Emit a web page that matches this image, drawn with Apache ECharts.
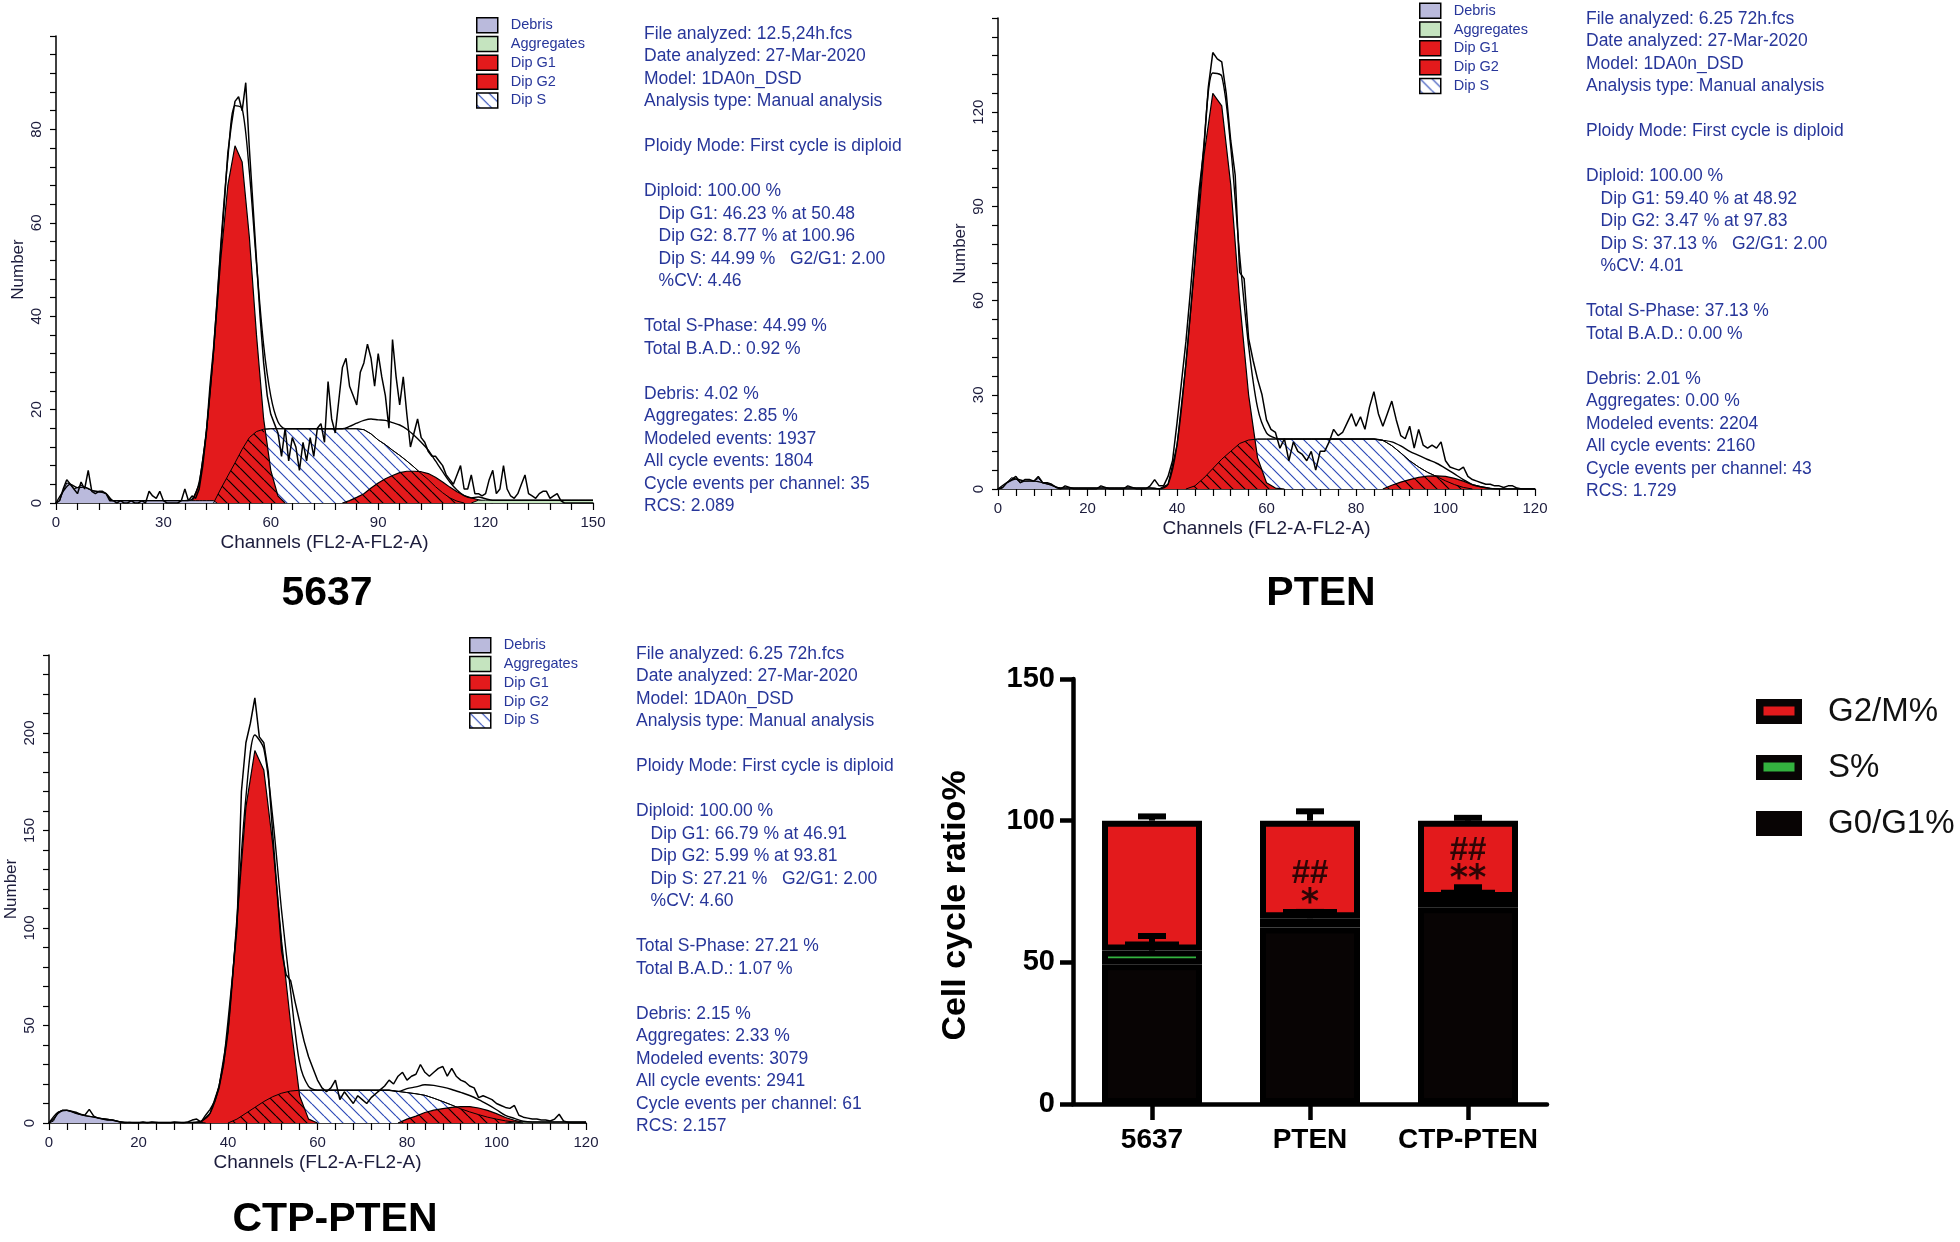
<!DOCTYPE html>
<html><head><meta charset="utf-8">
<script src="https://cdn.jsdelivr.net/npm/echarts@6/dist/echarts.min.js"></script>
<style>html,body{margin:0;padding:0;background:#fff}#c{width:1960px;height:1242px}</style>
</head><body><div id="c"></div>
<script>
// ---------------- DATA ----------------
// Panel 1 : 5637 (channels 0..150)
const raw5637 = [
0,0.5,3,5,4,3,2,4.5,3,7,
2.5,2,2.5,2.5,2,0.5,0.5,0,0.5,0,
0,0.5,0,0,0.5,0,2.5,1.5,1,2.5,
0.5,0,0,0,0,0.5,3,0.5,1.5,1,
3,8,15,25,33,43,54,64,75,81,
86,87,84,90,76,64,52,40,30,23,
19,17,15,10,16,9,14,12,7,13,
9,14,10,16,17,13,26,18,15,22,
29,31,25,23,21,28,30,34,31,25,
32,27,23,16,35,27,21,27,19,12,
15,18,14,13,11,10,10,9,8,6,
5,4,6,8,3,3,6,2,2,1.5,
2,5,7,2,3,8,3,1.5,1,2,
4,6,2,1.5,1,2,2.5,2.5,1,1.5,
2,0.5,0,0,0,0,0,0,0,0,0];
const debris5637 = [0,0.5,2.5,4.3,4,3,3.3,3.8,3.4,3,2.7,2.5,2.4,2.3,2,0.8,0.5,0.5,0.5,0.5,0.5,0.5,0.5,0.5,0.5,0.5,0.5,0.5,0.5,0.5,0.5,0.5,0.5,0.5,0.5,0.5,0.5,0.5,0.5,0.5,0.5,0.5,0.5,0.5,0.5,0];
const g1_5637 = [[36,0],[38,0.3],[40,4],[42,15],[44,32],[46,52],[48,68],[50,76.5],[52,73],[54,57],[56,36],[58,18],[60,7],[62,1.5],[64,0]];
const s_5637 = [[44,0],[46,3],[48,5.8],[50,8.6],[52,11.5],[54,14],[56,15.3],[58,15.8],[60,15.9],[62,15.9],[64,15.9],[66,15.9],[68,15.9],[70,15.9],[72,15.9],[74,15.9],[76,15.9],[78,15.9],[80,15.9],[82,15.9],[84,15.9],[86,15.7],[88,14.8],[90,13.5],[92,12.5],[94,11.3],[96,10.2],[98,9],[100,7.7],[102,6.3],[104,5],[106,3.5],[108,2.2],[110,1.1],[112,0.4],[114,0]];
const g2_5637 = [[80,0],[82,0.5],[84,1.2],[86,2],[88,3.2],[90,4.3],[92,5.2],[94,5.9],[96,6.5],[98,6.8],[100,6.8],[102,6.7],[104,6.3],[106,5.5],[108,4.5],[110,3.4],[112,2.4],[114,1.6],[116,1.1],[118,0.7],[120,0.3],[122,0]];
const aggr_5637 = [[116,0],[118,0.6],[120,0.6],[122,0.6],[124,0.6],[126,0.6],[128,0.6],[130,0.6],[132,0.6],[134,0.6],[136,0.6],[138,0.6],[140,0.6],[142,0.6],[144,0.6],[146,0.6],[148,0.6],[150,0.6]];

// Panel 2 : PTEN (channels 0..120)
const rawPTEN = [
0,0.5,2,3,4,2,3,3,2.5,4,
2,2,1.5,0.5,0,1,0.5,0,0,0,
0,0,0,1,0.5,0,0,0,0,1,
0.5,0,0,0,1,3,1,1,4,9,
21,34,47,63,80,96,108,128,139,137,
136,126,111,100,69,67,48,41,35,30,
22,19,18,13,16,9,15,12,11,9,
12,6,12,12,15,19,17,18,21,24,
20,23,19,26,31,24,20,24,28,22,
17,16,20,13,19,14,13,14,13,15,
9,7,6.5,6,7,4,3,2.5,2,1.5,
1.5,1,1,0.5,1,1,0.3,0,0,0,0];
const debrisPTEN = [0,0.3,2,3.6,3.2,2,2.5,2.6,2.5,3.4,2,1.6,1.2,0.5,0.3,0.3,0.3,0.3,0.3,0.3,0.3,0.3,0.3,0.3,0.3,0.3,0.3,0.3,0.3,0.3,0.3,0.3,0.3,0.3,0.3,0.3,0];
const g1_PTEN = [[36,0],[38,1.5],[40,14],[42,40],[44,72],[46,106],[48,126],[50,122],[52,97],[54,60],[56,30],[58,10],[60,2],[62,0.3],[64,0]];
const s_PTEN = [[42,0],[44,1],[46,3.5],[48,6.5],[50,9.5],[52,12],[54,14.5],[56,15.6],[58,15.9],[60,15.9],[62,15.9],[64,15.9],[66,15.9],[68,15.9],[70,15.9],[72,15.9],[74,15.9],[76,15.9],[78,15.9],[80,15.9],[82,15.9],[84,15.9],[86,15.5],[88,13.8],[90,11.5],[92,9],[94,7],[96,5.3],[98,4],[100,2.6],[102,1.4],[104,0.5],[106,0]];
const g2_PTEN = [[86,0],[88,1.2],[90,2.2],[92,3],[94,3.7],[96,4.1],[98,4.2],[100,4],[102,3.4],[104,2.5],[106,1.4],[108,0.7],[110,0.2],[112,0]];

// Panel 3 : CTP-PTEN (channels 0..120)
const rawCTP = [
0,2,5,6.5,6.5,6,5.5,4.5,4,7,
3.5,2.5,2,1.5,1.5,1,0.5,0,0.3,0,
0,0.5,0,0.5,0.3,0,0,0,0.5,0.3,
0,0.5,1.5,2,0.5,4,7,11,18,30,
52,75,100,170,195,205,218,198,195,180,
148,118,88,76,73,62,52,42,34,28,
22,18,16,18,22,12,16,13,10,14,
12,10,13,15,17,19,22,20,24,26,
22,24,25,30,26,24,26,28,29,24,
28,24,22,21,19,18,13,14,13,12,
10,9,8,7.5,9,4,3,2.5,2,2,
1.5,1.5,1,2,4.5,1,0.3,0,0,0,0];
const debrisCTP = [0,1,5.5,6.5,6.5,6,5,4.5,3.8,3.5,3,2.6,2.2,2,1.6,1.2,0.5,0.3,0.3,0.3,0.3,0.3,0.3,0.3,0.3,0.3,0.3,0.3,0.3,0.3,0.3,0.3,0.3,0.3,0.3,0];
const g1_CTP = [[32,0],[34,0.6],[36,5],[38,19],[40,47],[42,103],[44,162],[46,191],[48,181],[50,143],[52,93],[54,51],[56,14],[58,2],[60,0]];
const s_CTP = [[40,0],[42,2],[44,5],[46,8],[48,11],[50,13.5],[52,15.3],[54,16.4],[56,16.8],[58,16.8],[60,16.8],[62,16.8],[64,16.8],[66,16.8],[68,16.8],[70,16.8],[72,16.8],[74,16.8],[76,16.8],[78,16.2],[80,15.6],[82,15],[84,14.2],[86,12.7],[88,11],[90,9.2],[92,7.3],[94,5.7],[96,4.3],[98,3],[100,2],[102,1.1],[104,0.5],[106,0]];
const g2_CTP = [[78,0],[80,2],[82,3.5],[84,5.4],[86,6.6],[88,7.4],[90,8],[92,8.4],[94,8.4],[96,7.7],[98,6.5],[100,4.8],[102,2.8],[104,1.4],[106,0.4],[108,0]];
const aggr_CTP = [[102,0],[104,0.5],[106,0.5],[108,0.5],[110,0.5],[112,0.5],[114,0.5],[116,0.5],[118,0.5],[120,0.5]];

// Bar chart
const cats = ['5637', 'PTEN', 'CTP-PTEN'];
const g0g1 = [49.3, 62.3, 69.4];
const sPhase = [4.9, 3.3, 3.3];
const g2m = [45.8, 34.4, 27.3];
const errTop = [1.5, 3.3, 1.0];
const errSNarrow = [5.1, 2.2, 3.8];
const errSWide = [2.1, 2.2, 1.9];
const annotText = ['##', '*', '##', '**'];
const annotCat = [1, 1, 2, 2];
const annotY = [81.3, 73.4, 89.2, 81.9];

// Text blocks
const info5637 = ['File analyzed: 12.5,24h.fcs','Date analyzed: 27-Mar-2020','Model: 1DA0n_DSD','Analysis type: Manual analysis','','Ploidy Mode: First cycle is diploid','','Diploid: 100.00 %','   Dip G1: 46.23 % at 50.48','   Dip G2: 8.77 % at 100.96','   Dip S: 44.99 %   G2/G1: 2.00','   %CV: 4.46','','Total S-Phase: 44.99 %','Total B.A.D.: 0.92 %','','Debris: 4.02 %','Aggregates: 2.85 %','Modeled events: 1937','All cycle events: 1804','Cycle events per channel: 35','RCS: 2.089'];
const infoPTEN = ['File analyzed: 6.25 72h.fcs','Date analyzed: 27-Mar-2020','Model: 1DA0n_DSD','Analysis type: Manual analysis','','Ploidy Mode: First cycle is diploid','','Diploid: 100.00 %','   Dip G1: 59.40 % at 48.92','   Dip G2: 3.47 % at 97.83','   Dip S: 37.13 %   G2/G1: 2.00','   %CV: 4.01','','Total S-Phase: 37.13 %','Total B.A.D.: 0.00 %','','Debris: 2.01 %','Aggregates: 0.00 %','Modeled events: 2204','All cycle events: 2160','Cycle events per channel: 43','RCS: 1.729'];
const infoCTP = ['File analyzed: 6.25 72h.fcs','Date analyzed: 27-Mar-2020','Model: 1DA0n_DSD','Analysis type: Manual analysis','','Ploidy Mode: First cycle is diploid','','Diploid: 100.00 %','   Dip G1: 66.79 % at 46.91','   Dip G2: 5.99 % at 93.81','   Dip S: 27.21 %   G2/G1: 2.00','   %CV: 4.60','','Total S-Phase: 27.21 %','Total B.A.D.: 1.07 %','','Debris: 2.15 %','Aggregates: 2.33 %','Modeled events: 3079','All cycle events: 2941','Cycle events per channel: 61','RCS: 2.157'];
const histLegendNames = ['Debris', 'Aggregates', 'Dip G1', 'Dip G2', 'Dip S'];

// ---------------- STYLE ----------------
const FONT = '"Liberation Sans", Arial, Helvetica, sans-serif';
const MARKFONT = '"DejaVu Sans", "Liberation Sans", sans-serif';
const BLUE = '#27369a';
const AXC = '#1c1c3c';
const RED = '#e31a1c';
const LAV = '#babadc';
const AGG = '#c5e4bf';
const GREEN = '#33b23f';

function hatch(bg, fg, w) {
  const s = 12, c = document.createElement('canvas');
  c.width = s; c.height = s;
  const x = c.getContext('2d');
  if (bg) { x.fillStyle = bg; x.fillRect(0, 0, s, s); }
  x.strokeStyle = fg; x.lineWidth = w; x.beginPath();
  for (const o of [-s, 0, s]) { x.moveTo(o, 0); x.lineTo(o + s, s); }
  x.stroke();
  return { image: c, repeat: 'repeat' };
}
const hatchBlue = hatch('#ffffff', '#2d4ab8', 1.2);
const hatchBlack = hatch(null, '#000000', 1.2);

function boxIcon(fill, full) {
  const c = document.createElement('canvas');
  c.width = 46; c.height = 25;
  const x = c.getContext('2d');
  x.fillStyle = '#080404'; x.fillRect(0, 0, 46, 25);
  if (!full) { x.fillStyle = fill; x.fillRect(7.5, 7.5, 31, 9); }
  return 'image://' + c.toDataURL();
}

function panelSeries(gi, raw, debris, g1, s, g2, aggr, maxCh) {
  const m = a => new Map(a.map(p => [p[0], p[1]]));
  const G1 = m(g1), S = m(s), G2 = m(g2), AG = m(aggr || []);
  const ov = [], fit = [];
  for (let ch = 0; ch <= maxCh; ch += 2) {
    const sv = S.get(ch) || 0, r = (G1.get(ch) || 0) + (G2.get(ch) || 0);
    ov.push([ch, Math.min(sv, r)]);
    fit.push([ch, (debris[ch] || 0) + (G1.get(ch) || 0) + sv + (G2.get(ch) || 0) + (AG.get(ch) || 0)]);
  }
  const base = { type: 'line', xAxisIndex: gi, yAxisIndex: gi, symbol: 'none', silent: true, animation: false };
  const redS = { itemStyle: { color: RED }, lineStyle: { color: '#000', width: 1.2 }, areaStyle: { color: RED, opacity: 1 } };
  const out = [
    Object.assign({}, base, { name: 'Dip S', data: s, z: 2, itemStyle: { color: '#fff' }, lineStyle: { color: '#000', width: 1 }, areaStyle: { color: hatchBlue, opacity: 1 } }),
    Object.assign({}, base, { name: 'Dip G1', data: g1, z: 3 }, redS),
    Object.assign({}, base, { name: 'Dip G2', data: g2, z: 3 }, redS),
    Object.assign({}, base, { name: 'S overlap', data: ov, z: 4, lineStyle: { width: 0, opacity: 0 }, areaStyle: { color: hatchBlack, opacity: 1 } }),
    Object.assign({}, base, { name: 'S outline', data: s, z: 5, lineStyle: { color: '#000', width: 1 } }),
    Object.assign({}, base, { name: 'Debris', data: debris.map((v, i) => [i, v]), z: 5, itemStyle: { color: LAV }, lineStyle: { color: '#000', width: 1 }, areaStyle: { color: LAV, opacity: 1 } })
  ];
  if (aggr) out.push(Object.assign({}, base, { name: 'Aggregates', data: aggr, z: 5, itemStyle: { color: AGG }, lineStyle: { color: '#000', width: 1 }, areaStyle: { color: AGG, opacity: 1 } }));
  out.push(Object.assign({}, base, { name: 'Model fit', data: fit, z: 6, smooth: 0.3, lineStyle: { color: '#000', width: 1.4 } }));
  out.push(Object.assign({}, base, { name: 'Raw data', data: raw.map((v, i) => [i, v]), z: 7, lineStyle: { color: '#000', width: 1.5 } }));
  return out;
}

function hx(gi, max, step, labelStep) {
  return {
    type: 'value', gridIndex: gi, min: 0, max: max, interval: step,
    axisLine: { show: true, onZero: false, lineStyle: { color: '#000', width: 1.5 } },
    axisTick: { show: true, length: 7, lineStyle: { color: '#000', width: 1.2 } },
    splitLine: { show: false }, minorTick: { show: false },
    axisLabel: { formatter: v => (v % labelStep === 0 ? String(v) : ''), color: AXC, fontSize: 15, fontFamily: FONT, margin: 12 },
    name: 'Channels (FL2-A-FL2-A)', nameLocation: 'middle', nameGap: 30,
    nameTextStyle: { fontSize: 19, color: AXC, fontFamily: FONT }
  };
}
function hy(gi, max, step, labelStep) {
  return {
    type: 'value', gridIndex: gi, min: 0, max: max, interval: step,
    axisLine: { show: true, lineStyle: { color: '#000', width: 1.5 } },
    axisTick: { show: true, length: 6, lineStyle: { color: '#000', width: 1.2 } },
    splitLine: { show: false },
    axisLabel: { formatter: v => (v % labelStep === 0 && v < max ? String(v) : ''), rotate: 90, color: AXC, fontSize: 15, fontFamily: FONT, margin: 12 },
    name: 'Number', nameLocation: 'middle', nameGap: 29,
    nameTextStyle: { fontSize: 17, color: AXC, fontFamily: FONT }
  };
}
function histLegend(left, top) {
  const st = { borderColor: '#000', borderWidth: 1.5 };
  return {
    left: left, top: top, orient: 'vertical', padding: 0, icon: 'rect', selectedMode: false,
    itemWidth: 21, itemHeight: 15, itemGap: 2.3,
    textStyle: { color: BLUE, fontSize: 14.5, fontFamily: FONT, padding: [0, 0, 0, 8], lineHeight: 15 },
    data: histLegendNames.map(n => ({
      name: n,
      itemStyle: Object.assign({}, st, { color: n === 'Debris' ? LAV : n === 'Aggregates' ? AGG : n === 'Dip S' ? hatchBlue : RED })
    }))
  };
}
function infoText(lines, left, top) {
  return { type: 'text', left: left, top: top, silent: true,
    style: { text: lines.join('\n'), fill: BLUE, font: '17.5px ' + FONT, lineHeight: 22.5 } };
}
function errSeries(data, half) {
  return {
    type: 'custom', xAxisIndex: 3, yAxisIndex: 3, z: 6, silent: true, data: data,
    renderItem: (p, api) => {
      const a = api.coord([api.value(0), api.value(1)]);
      const b = api.coord([api.value(0), api.value(2)]);
      return { type: 'group', children: [
        { type: 'line', shape: { x1: a[0], y1: a[1], x2: b[0], y2: b[1] }, style: { stroke: '#000', lineWidth: 6 } },
        { type: 'line', shape: { x1: b[0] - half, y1: b[1], x2: b[0] + half, y2: b[1] }, style: { stroke: '#000', lineWidth: 6 } }
      ] };
    }
  };
}

const narrowCaps = [], wideCaps = [];
cats.forEach((c, i) => {
  const sTop = g0g1[i] + sPhase[i], tot = g0g1[i] + sPhase[i] + g2m[i];
  narrowCaps.push([i, tot, tot + errTop[i]]);
  narrowCaps.push([i, sTop, sTop + errSNarrow[i]]);
  wideCaps.push([i, sTop, sTop + errSWide[i]]);
});

const barBase = { type: 'bar', xAxisIndex: 3, yAxisIndex: 3, stack: 'cc', barWidth: 100, silent: true };
const series = [].concat(
  panelSeries(0, raw5637, debris5637, g1_5637, s_5637, g2_5637, aggr_5637, 150),
  panelSeries(1, rawPTEN, debrisPTEN, g1_PTEN, s_PTEN, g2_PTEN, null, 120),
  panelSeries(2, rawCTP, debrisCTP, g1_CTP, s_CTP, g2_CTP, aggr_CTP, 120),
  [
    Object.assign({}, barBase, { name: 'G0/G1%', data: g0g1, itemStyle: { color: '#080404', borderColor: '#000', borderWidth: 6 } }),
    Object.assign({}, barBase, { name: 'S%', data: sPhase, itemStyle: { color: GREEN, borderColor: '#000', borderWidth: 6 } }),
    Object.assign({}, barBase, { name: 'G2/M%', data: g2m, itemStyle: { color: RED, borderColor: '#000', borderWidth: 6 } }),
    errSeries(narrowCaps, 14),
    errSeries(wideCaps, 27),
    {
      type: 'scatter', xAxisIndex: 3, yAxisIndex: 3, z: 7, silent: true, symbolSize: 2, itemStyle: { color: 'rgba(0,0,0,0)' },
      data: annotText.map((t, i) => {
        const star = t.indexOf('*') === 0;
        return { value: [annotCat[i], annotY[i]], name: t,
          label: star ? { fontSize: 35, offset: [0, 8], fontFamily: MARKFONT }
                      : { fontSize: 33, offset: [0, 0], fontFamily: FONT } };
      }),
      label: { show: true, position: 'inside', formatter: p => p.name, fontWeight: 'bold', color: '#000' }
    }
  ]
);

const option = {
  backgroundColor: '#ffffff',
  animation: false,
  textStyle: { fontFamily: FONT },
  title: [
    { text: '5637', left: 327, top: 573, textAlign: 'center', padding: 0, textStyle: { fontSize: 41, fontWeight: 'bold', color: '#000', fontFamily: FONT } },
    { text: 'PTEN', left: 1321, top: 573, textAlign: 'center', padding: 0, textStyle: { fontSize: 41, fontWeight: 'bold', color: '#000', fontFamily: FONT } },
    { text: 'CTP-PTEN', left: 335, top: 1199, textAlign: 'center', padding: 0, textStyle: { fontSize: 41, fontWeight: 'bold', color: '#000', fontFamily: FONT } }
  ],
  grid: [
    { left: 56, top: 36, width: 537, height: 467, outerBoundsMode: 'none' },
    { left: 998, top: 18, width: 537, height: 471, outerBoundsMode: 'none' },
    { left: 49, top: 655, width: 537, height: 468, outerBoundsMode: 'none' },
    { left: 1073, top: 679, width: 474, height: 425, outerBoundsMode: 'none' }
  ],
  xAxis: [
    hx(0, 150, 6, 30), hx(1, 120, 4, 20), hx(2, 120, 4, 20),
    { type: 'category', gridIndex: 3, data: cats,
      axisLine: { show: true, lineStyle: { color: '#000', width: 4.5 } },
      axisTick: { show: true, alignWithLabel: true, interval: 0, length: 16, lineStyle: { color: '#000', width: 4.5 } },
      splitLine: { show: false },
      axisLabel: { interval: 0, hideOverlap: false, fontSize: 28, fontWeight: 'bold', color: '#000', fontFamily: FONT, margin: 22 } }
  ],
  yAxis: [
    hy(0, 100, 4, 20), hy(1, 150, 6, 30), hy(2, 240, 10, 50),
    { type: 'value', gridIndex: 3, min: 0, max: 150, interval: 50,
      axisLine: { show: true, lineStyle: { color: '#000', width: 4.5 } },
      axisTick: { show: true, length: 13, lineStyle: { color: '#000', width: 4.5 } },
      splitLine: { show: false },
      axisLabel: { fontSize: 29, fontWeight: 'bold', color: '#000', fontFamily: FONT, margin: 18 },
      name: 'Cell cycle ratio%', nameLocation: 'middle', nameGap: 100,
      nameTextStyle: { fontSize: 34, fontWeight: 'bold', color: '#000', fontFamily: FONT, padding: [0, 28, 0, 0] } }
  ],
  legend: [
    histLegend(476, 17),
    histLegend(1419, 2.5),
    histLegend(469, 637),
    { left: 1756, top: 695, orient: 'vertical', padding: 0, selectedMode: false,
      itemWidth: 46, itemHeight: 25, itemGap: 23,
      textStyle: { fontSize: 33, color: '#111', fontFamily: FONT, padding: [0, 0, 0, 21], lineHeight: 25 },
      data: [
        { name: 'G2/M%', icon: boxIcon(RED, false) },
        { name: 'S%', icon: boxIcon(GREEN, false) },
        { name: 'G0/G1%', icon: boxIcon('#000', true) }
      ] }
  ],
  graphic: [
    infoText(info5637, 644, 22.75),
    infoText(infoPTEN, 1586, 7.75),
    infoText(infoCTP, 636, 642.75)
  ],
  series: series
};

const chart = echarts.init(document.getElementById('c'), null, { renderer: 'canvas', width: 1960, height: 1242 });
chart.setOption(option);
</script></body></html>
